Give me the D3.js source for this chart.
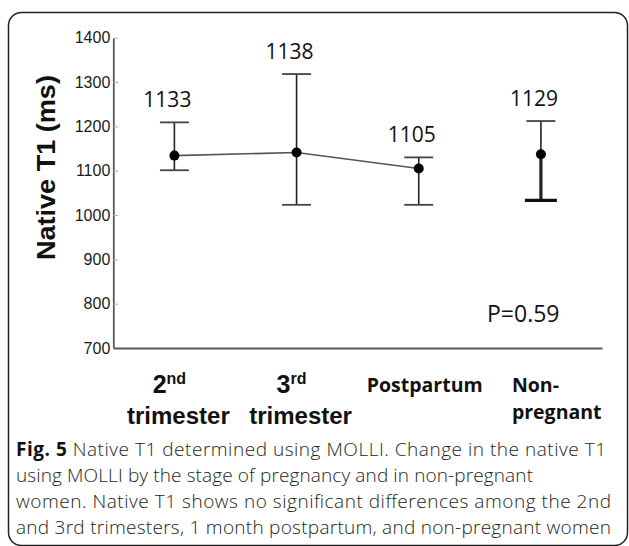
<!DOCTYPE html>
<html>
<head>
<meta charset="utf-8">
<script src="https://cdn.jsdelivr.net/npm/d3@7"></script>
<style>
  body { margin: 0; background: #fff; }
  .axis--y text { font-family: 'Liberation Sans', Arial, sans-serif; font-size: 16px; fill: #1a1a1a; }
  .axis--y line { stroke: #b0b0b0; }
  .axis path { stroke: #5a5a5a; stroke-width: 1.8px; }
  .arial { font-family: 'Liberation Sans', Arial, sans-serif; }
  .open { font-family: 'Open Sans', sans-serif; }
</style>
</head>
<body>
<svg id="chart" width="629" height="546"></svg>
<script>
// data
var categories = ["2nd trimester", "3rd trimester", "Postpartum", "Non-pregnant"];
var means = [1134, 1141, 1105, 1137];
var upper = [1209, 1318, 1130, 1212];
var lower = [1101, 1023, 1023, 1033];
var valueLabels = ["1133", "1138", "1105", "1129"];
var yTicks = [700, 800, 900, 1000, 1100, 1200, 1300, 1400];
var catMain = ["2", "3", "Postpartum", "Non-"];
var catSup = ["nd", "rd", "", ""];
var catSecond = ["trimester", "trimester", "", "pregnant"];
var pText = "P=0.59";
var captionBold = "Fig. 5";
var captionLines = [
  " Native T1 determined using MOLLI. Change in the native T1",
  "using MOLLI by the stage of pregnancy and in non-pregnant",
  "women. Native T1 shows no significant differences among the 2nd",
  "and 3rd trimesters, 1 month postpartum, and non-pregnant women"
];

var svg = d3.select("#chart");

// frame (bottom edge sits on the last pixel rows)
svg.append("rect")
    .attr("x", 8.5).attr("y", 12.5)
    .attr("width", 619).attr("height", 533)
    .attr("rx", 13).attr("ry", 13)
    .attr("fill", "none")
    .attr("stroke", "#222")
    .attr("stroke-width", 1.5);

var margin = {left: 113.3, right: 27, top: 37.7, bottom: 198};

var x = d3.scaleBand()
    .domain(categories)
    .range([margin.left, 629 - margin.right])
    .padding(0);

var y = d3.scaleLinear()
    .domain([700, 1400])
    .range([546 - margin.bottom, margin.top]);

function cx(i) { return x(categories[i]) + x.bandwidth() / 2; }

/* y axis */
svg.append("g")
    .attr("class", "axis axis--y")
    .attr("transform", "translate(" + margin.left + ",0)")
    .call(d3.axisLeft(y).tickValues(yTicks).tickFormat(d3.format("d"))
      .tickSizeInner(-5).tickSizeOuter(0).tickPadding(3))
  .selectAll(".tick")
    .filter(function(d) { return d === 700; })
    .select("line").remove();

/* x axis: plain baseline */
svg.append("g")
    .attr("class", "axis axis--x")
    .attr("transform", "translate(0," + y(700) + ")")
    .call(d3.axisBottom(x).tickSize(0).tickFormat(""));

/* y title */
svg.append("text")
    .attr("class", "arial")
    .attr("transform", "translate(55," + y(1107) + ") rotate(-90)")
    .attr("text-anchor", "middle")
    .attr("font-weight", "bold")
    .attr("font-size", 26)
    .attr("textLength", 185)
    .attr("lengthAdjust", "spacingAndGlyphs")
    .attr("fill", "#111")
    .text("Native T1 (ms)");

/* connecting line for the pregnancy stages */
var line = d3.line()
    .x(function(d) { return cx(d); })
    .y(function(d) { return y(means[d]); });

svg.append("path")
    .datum([0, 1, 2])
    .attr("d", line)
    .attr("fill", "none")
    .attr("stroke", "#555")
    .attr("stroke-width", 1.6);

/* error bars */
var cap = 14.5;
var bars = svg.selectAll(".bar")
    .data(categories.map(function(c, i) { return i; }))
    .enter().append("g")
    .attr("class", "bar")
    .attr("stroke", "#222");

bars.append("line")
    .attr("x1", cx).attr("x2", cx)
    .attr("y1", function(i) { return y(upper[i]); })
    .attr("y2", function(i) { return y(means[i]); })
    .attr("stroke-width", 1.6);

bars.append("line")
    .attr("x1", cx).attr("x2", cx)
    .attr("y1", function(i) { return y(means[i]); })
    .attr("y2", function(i) { return y(lower[i]); })
    .attr("stroke-width", function(i) { return i === 3 ? 3.2 : 1.6; });

bars.append("line")
    .attr("x1", function(i) { return cx(i) - cap; })
    .attr("x2", function(i) { return cx(i) + cap; })
    .attr("y1", function(i) { return y(upper[i]); })
    .attr("y2", function(i) { return y(upper[i]); })
    .attr("stroke", "#444")
    .attr("stroke-width", 1.8);

bars.append("line")
    .attr("x1", function(i) { return cx(i) - (i === 3 ? 16 : cap); })
    .attr("x2", function(i) { return cx(i) + (i === 3 ? 16 : cap); })
    .attr("y1", function(i) { return y(lower[i]); })
    .attr("y2", function(i) { return y(lower[i]); })
    .attr("stroke", function(i) { return i === 3 ? "#111" : "#444"; })
    .attr("stroke-width", function(i) { return i === 3 ? 3.4 : 1.8; });

bars.append("circle")
    .attr("cx", cx)
    .attr("cy", function(i) { return y(means[i]); })
    .attr("r", 5)
    .attr("fill", "#000")
    .attr("stroke", "none");

/* value labels */
svg.selectAll(".val")
    .data(valueLabels)
    .enter().append("text")
    .attr("class", "val open")
    .attr("x", function(d, i) { return cx(i) - 7; })
    .attr("y", function(d, i) { return y(upper[i]) - 15; })
    .attr("text-anchor", "middle")
    .attr("font-size", 21)
    .attr("fill", "#111")
    .text(function(d) { return d; });

/* p value */
svg.append("text")
    .attr("class", "open")
    .attr("x", 487)
    .attr("y", 322)
    .attr("font-size", 23)
    .attr("fill", "#111")
    .text(pText);

/* category labels */
categories.forEach(function(c, i) {
  var arial = i < 2;
  var anchor = i === 3 ? "start" : "middle";
  var dx1 = i === 3 ? -29 : (i === 2 ? 6 : -5);
  var dx2 = i === 3 ? -29 : 4;
  var t = svg.append("text")
      .attr("class", arial ? "arial" : "open")
      .attr("x", cx(i) + dx1)
      .attr("y", arial ? 393 : 392)
      .attr("text-anchor", anchor)
      .attr("font-weight", "bold")
      .attr("font-size", arial ? 25 : 19.5)
      .attr("fill", "#111");
  t.append("tspan").text(catMain[i]);
  if (catSup[i]) {
    t.append("tspan").attr("dy", -9).attr("font-size", 16).text(catSup[i]);
  }
  if (catSecond[i]) {
    svg.append("text")
        .attr("class", arial ? "arial" : "open")
        .attr("x", cx(i) + dx2)
        .attr("y", arial ? 424 : 419)
        .attr("text-anchor", anchor)
        .attr("font-weight", "bold")
        .attr("font-size", arial ? 24 : 19.5)
        .attr("fill", "#111")
        .text(catSecond[i]);
  }
});

/* caption */
var capWidths = [590, 517, 595, 595];
captionLines.forEach(function(l, i) {
  var t = svg.append("text")
      .attr("class", "open")
      .attr("x", 16)
      .attr("y", 456 + i * 26)
      .attr("font-weight", 300)
      .attr("font-size", 19)
      .attr("fill", "#231f20")
      .attr("textLength", capWidths[i])
      .attr("lengthAdjust", "spacing");
  if (i === 0) t.append("tspan").attr("font-weight", "bold").attr("fill", "#111").text(captionBold);
  t.append("tspan").text(l);
});
</script>
</body>
</html>
